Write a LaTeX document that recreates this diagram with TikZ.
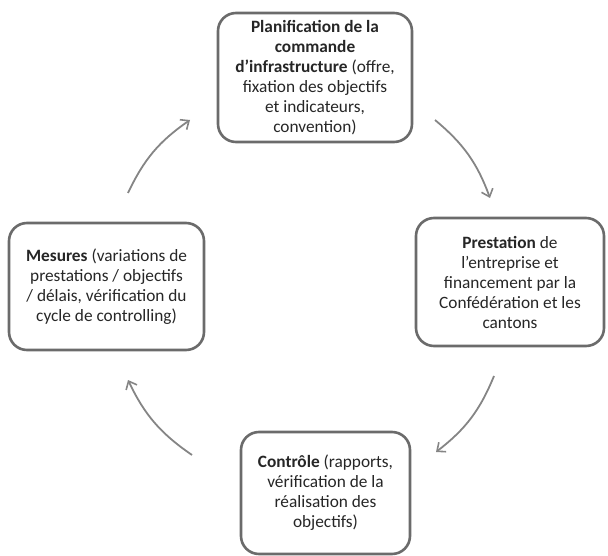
\documentclass[tikz,border=0pt]{standalone}
\usepackage{fontspec}
\setmainfont{Carlito}
\usetikzlibrary{arrows.meta}
\begin{document}
\begin{tikzpicture}[x=1pt,y=-1pt,
  box/.style={draw=black!58,line width=2.6pt,rounded corners=18pt,fill=white,
    inner sep=0pt,align=center,font=\fontsize{17.3}{20}\selectfont,text=black!85},
  cyc/.style={draw=black!48,line width=1.8pt,-{Straight Barb[length=7pt,width=12pt,line width=1.6pt]}}]
\useasboundingbox (0,0) rectangle (608,556);
\node[box,minimum width=194pt,minimum height=129pt] (plan) at (315,77.5)
  {\textbf{Planification de la}\\\textbf{commande}\\\textbf{d’infrastructure} (offre,\\fixation des objectifs\\et indicateurs,\\convention)};
\node[box,minimum width=188pt,minimum height=128pt] (prest) at (510,282)
  {\textbf{Prestation} de\\l’entreprise et\\financement par la\\Confédération et les\\cantons};
\node[box,minimum width=195pt,minimum height=127pt] (mes) at (106.5,286.5)
  {\textbf{Mesures} (variations de\\prestations / objectifs\\/ délais, vérification du\\cycle de controlling)};
\node[box,minimum width=169pt,minimum height=122pt] (ctrl) at (325.5,493)
  {\textbf{Contrôle} (rapports,\\vérification de la\\réalisation des\\objectifs)};
\coordinate (a1) at (128,193); \coordinate (b1) at (190,120);
\coordinate (a2) at (435,120); \coordinate (b2) at (490,198);
\coordinate (a3) at (494,376); \coordinate (b3) at (436,452);
\coordinate (a4) at (192,455); \coordinate (b4) at (128,380);
\draw[cyc] (a1) to[bend left=15] (b1);
\draw[cyc] (a2) to[bend left=15] (b2);
\draw[cyc] (a3) to[bend left=15] (b3);
\draw[cyc] (a4) to[bend left=15] (b4);
\end{tikzpicture}
\end{document}
